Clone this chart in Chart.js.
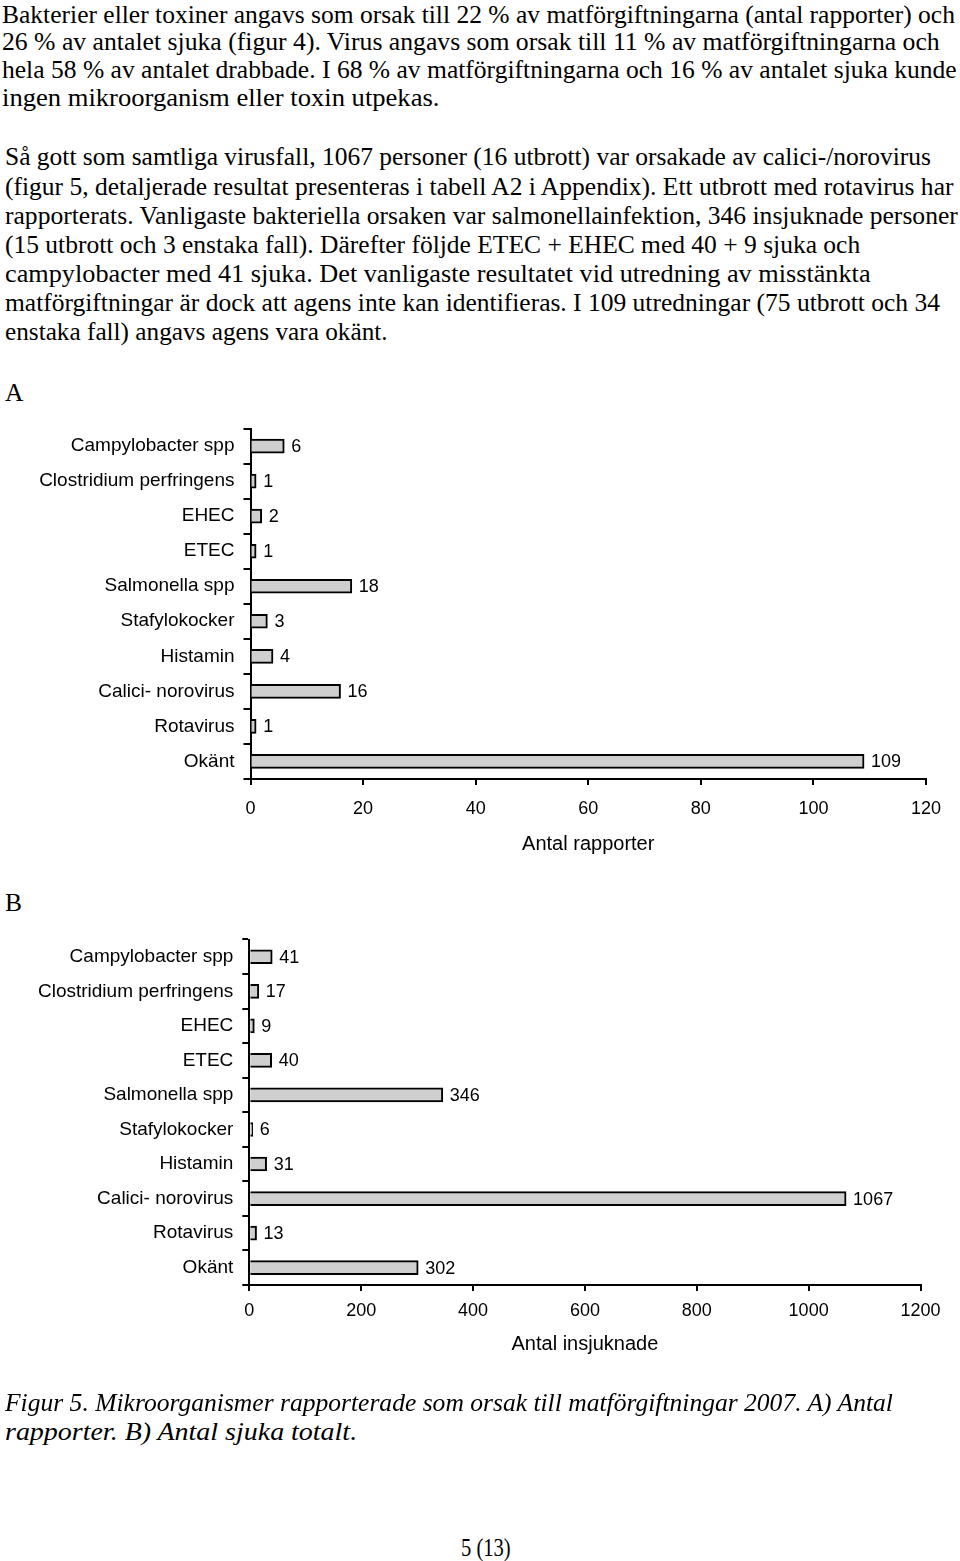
<!DOCTYPE html>
<html>
<head>
<meta charset="utf-8">
<script src="https://cdn.jsdelivr.net/npm/chart.js@4.4.1/dist/chart.umd.min.js"></script>
<style>
  html, body { margin: 0; padding: 0; background: #fff; }
  body { width: 960px; height: 1561px; position: relative; overflow: hidden; }
  .ln {
    position: absolute; white-space: nowrap; line-height: 28px; height: 28px;
    font-family: "Liberation Serif", "Times New Roman", Times, serif; font-size: 25.5px; color: #000;
    transform-origin: left center;
  }
  .it { font-style: italic; }
  canvas { position: absolute; left: 0; }
</style>
</head>
<body>

<div class="ln" data-x="2" data-y="15" data-r="955">Bakterier eller toxiner angavs som orsak till 22 % av matförgiftningarna (antal rapporter) och</div>
<div class="ln" data-x="2" data-y="42" data-r="940">26 % av antalet sjuka (figur 4). Virus angavs som orsak till 11 % av matförgiftningarna och</div>
<div class="ln" data-x="2" data-y="70" data-r="957">hela 58 % av antalet drabbade. I 68 % av matförgiftningarna och 16 % av antalet sjuka kunde</div>
<div class="ln" data-x="2" data-y="98" data-r="440">ingen mikroorganism eller toxin utpekas.</div>

<div class="ln" data-x="5" data-y="157" data-r="931">Så gott som samtliga virusfall, 1067 personer (16 utbrott) var orsakade av calici-/norovirus</div>
<div class="ln" data-x="5" data-y="187" data-r="953">(figur 5, detaljerade resultat presenteras i tabell A2 i Appendix). Ett utbrott med rotavirus har</div>
<div class="ln" data-x="5" data-y="216" data-r="958">rapporterats. Vanligaste bakteriella orsaken var salmonellainfektion, 346 insjuknade personer</div>
<div class="ln" data-x="5" data-y="245" data-r="860">(15 utbrott och 3 enstaka fall). Därefter följde ETEC + EHEC med 40 + 9 sjuka och</div>
<div class="ln" data-x="5" data-y="274" data-r="871">campylobacter med 41 sjuka. Det vanligaste resultatet vid utredning av misstänkta</div>
<div class="ln" data-x="5" data-y="303" data-r="940">matförgiftningar är dock att agens inte kan identifieras. I 109 utredningar (75 utbrott och 34</div>
<div class="ln" data-x="5" data-y="332" data-r="388">enstaka fall) angavs agens vara okänt.</div>

<div class="ln" data-x="5" data-y="393">A</div>
<canvas id="chartA" width="960" height="480" style="top:400px"></canvas>

<div class="ln" data-x="5" data-y="903">B</div>
<canvas id="chartB" width="960" height="480" style="top:910px"></canvas>

<div class="ln it" data-x="5" data-y="1403" data-r="893">Figur 5. Mikroorganismer rapporterade som orsak till matförgiftningar 2007. A) Antal</div>
<div class="ln it" data-x="5" data-y="1432" data-r="357">rapporter. B) Antal sjuka totalt.</div>

<div class="ln" data-x="461" data-y="1548" data-r="511">5 (13)</div>

<script>
// categories (same for both panels)
const categories = ['Campylobacter spp', 'Clostridium perfringens', 'EHEC', 'ETEC', 'Salmonella spp',
  'Stafylokocker', 'Histamin', 'Calici- norovirus', 'Rotavirus', 'Okänt'];

// A) number of reports
const reportsA = [6, 1, 2, 1, 18, 3, 4, 16, 1, 109];
const ticksA = [0, 20, 40, 60, 80, 100, 120];

// B) number of people taken ill
const illB = [41, 17, 9, 40, 346, 6, 31, 1067, 13, 302];
const ticksB = [0, 200, 400, 600, 800, 1000, 1200];

const sans = '"Liberation Sans", Arial, sans-serif';

// place text lines and fit them to the measured width
document.querySelectorAll('.ln').forEach(el => {
  el.style.left = el.dataset.x + 'px';
  el.style.top = (el.dataset.y - 14) + 'px';
  if (el.dataset.r) {
    const target = el.dataset.r - el.dataset.x;
    el.style.transform = 'scaleX(' + (target / el.scrollWidth) + ')';
  }
});

// writes the value right of each bar
const valueLabels = {
  id: 'valueLabels',
  afterDatasetsDraw(chart) {
    const ctx = chart.ctx;
    const values = chart.data.datasets[0].data;
    ctx.save();
    ctx.font = '18px ' + sans;
    ctx.fillStyle = '#000';
    ctx.textAlign = 'left';
    ctx.textBaseline = 'middle';
    chart.getDatasetMeta(0).data.forEach((bar, i) => {
      ctx.fillText(values[i], bar.x + 7, bar.y + 1);
    });
    ctx.restore();
  }
};

function makeChart(id, values, ticks, title, opt) {
  return new Chart(document.getElementById(id), {
    type: 'bar',
    data: {
      labels: categories,
      datasets: [{
        data: values,
        backgroundColor: '#cfcfcf',
        borderColor: '#000',
        borderWidth: 2,
        barThickness: 14
      }]
    },
    options: {
      indexAxis: 'y',
      responsive: false,
      animation: false,
      devicePixelRatio: 1,
      layout: { padding: { top: opt.top, right: opt.right, bottom: opt.bottom, left: 0 } },
      plugins: { legend: { display: false }, tooltip: { enabled: false } },
      scales: {
        y: {
          afterFit: s => { s.width = opt.left; },
          grid: { drawOnChartArea: false, drawTicks: true, tickLength: 7, color: '#000', lineWidth: 2 },
          border: { display: true, color: '#000', width: 2 },
          ticks: { color: '#000', padding: 9, font: { family: sans, size: 19 } }
        },
        x: {
          min: ticks[0],
          max: ticks[ticks.length - 1],
          afterBuildTicks: s => { s.ticks = ticks.map(v => ({ value: v })); },
          grid: { drawOnChartArea: false, drawTicks: true, tickLength: 6, color: '#000', lineWidth: 2 },
          border: { display: true, color: '#000', width: 2 },
          ticks: { color: '#000', padding: opt.tickPad, font: { family: sans, size: 18 },
            callback: v => String(v) },
          title: { display: true, text: title, color: '#000', padding: { top: opt.titlePad, bottom: 0 },
            font: { family: sans, size: 20 } }
        }
      }
    },
    plugins: [valueLabels]
  });
}

makeChart('chartA', reportsA, ticksA, 'Antal rapporter',
  { top: 28.6, right: 34, bottom: 23.5, left: 250.5, tickPad: 13, titlePad: 0 });
makeChart('chartB', illB, ticksB, 'Antal insjuknade',
  { top: 29.5, right: 39.5, bottom: 33.5, left: 249.3, tickPad: 9, titlePad: 2 });
</script>
</body>
</html>
